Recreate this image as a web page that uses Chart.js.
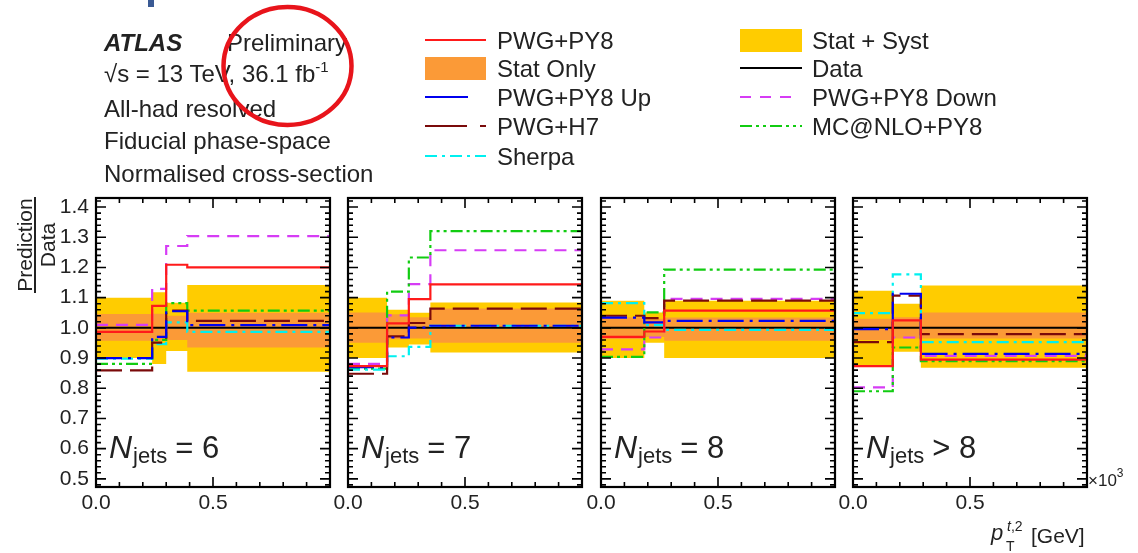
<!DOCTYPE html>
<html>
<head>
<meta charset="utf-8">
<script src="https://cdn.jsdelivr.net/npm/chart.js@4.4.1/dist/chart.umd.min.js"></script>
<style>
  body { margin: 0; width: 1138px; height: 553px; background: #fff; position: relative; overflow: hidden; }
  canvas.panel { position: absolute; }
  svg.overlay { position: absolute; left: 0; top: 0; pointer-events: none; }
  svg text { font-family: 'Liberation Sans', Arial, sans-serif; fill: #222; }
</style>
</head>
<body>

<script>
// pT(t,2) ratio to data, four jet-multiplicity slices, x in units of 10^3 GeV
const panelLabels = ['= 6', '= 7', '= 8', '> 8'];
const binEdges = [
  [0, 0.24, 0.30, 0.39, 1.0],
  [0, 0.167, 0.26, 0.352, 1.0],
  [0, 0.185, 0.27, 1.0],
  [0, 0.17, 0.29, 1.0]
];

// Stat + Syst band
const totalUp   = [[1.10, 1.118, 1.083, 1.142], [1.10, 1.06, 1.05, 1.084], [1.09, 1.051, 1.09], [1.123, 1.08, 1.14]];
const totalDown = [[0.90, 0.88, 0.923, 0.855], [0.90, 0.935, 0.945, 0.918], [0.90, 0.951, 0.90], [0.873, 0.921, 0.868]];
// Stat only band
const statUp    = [[1.046, 1.047, 1.04, 1.05], [1.051, 1.045, 1.035, 1.064], [1.035, 1.03, 1.034], [1.03, 1.035, 1.051]];
const statDown  = [[0.957, 0.957, 0.96, 0.935], [0.951, 0.962, 0.965, 0.951], [0.963, 0.97, 0.957], [0.96, 0.965, 0.965]];

const dataRatio  = [[1, 1, 1, 1], [1, 1, 1, 1], [1, 1, 1], [1, 1, 1]];
const pwgPy8     = [[0.987, 1.073, 1.209, 1.20], [0.873, 1.015, 1.095, 1.144], [0.97, 0.988, 1.057], [0.873, 1.025, 0.895]];
const pwgPy8Up   = [[0.90, 0.97, 1.055, 1.009], [0.87, 0.968, 1.001, 1.007], [1.034, 1.018, 1.023], [0.996, 1.113, 0.914]];
const pwgPy8Down = [[1.01, 1.129, 1.271, 1.304], [0.881, 1.041, 1.145, 1.257], [0.929, 0.968, 1.096], [0.803, 0.968, 0.907]];
const pwgH7      = [[0.859, 0.951, 1.057, 1.023], [0.848, 0.972, 1.016, 1.064], [1.04, 1.032, 1.09], [0.953, 1.107, 0.979]];
const mcnloPy8   = [[0.881, 0.96, 1.082, 1.057], [0.865, 1.12, 1.233, 1.32], [0.904, 1.051, 1.193], [0.79, 0.935, 0.89]];
const sherpa     = [[0.898, 0.946, 1.018, 0.987], [0.862, 0.906, 0.937, 1.007], [1.082, 1.009, 0.993], [1.049, 1.177, 0.953]];

const yTickValues = [0.5, 0.6, 0.7, 0.8, 0.9, 1.0, 1.1, 1.2, 1.3, 1.4];
const xTickValues = [0, 0.5];

const panelLeft = [96, 348, 601, 853];
const panelW = 234, panelH = 289, panelTop = 198;
const axisW = 70, axisH = 40, padTop = 10, padRight = 14;

const models = [
  { values: pwgPy8,     color: '#ff1a1a', dash: [],               order: 1 },
  { values: pwgPy8Up,   color: '#0000ee', dash: [26, 6, 3, 6],    order: 2 },
  { values: pwgH7,      color: '#7a0a0a', dash: [26, 8],          order: 3 },
  { values: sherpa,     color: '#00f0f0', dash: [12, 5, 3, 5],    order: 4 },
  { values: mcnloPy8,   color: '#11cc11', dash: [12, 4, 3, 4, 3, 4], order: 5 },
  { values: pwgPy8Down, color: '#d63cf5', dash: [12, 8],          order: 6 }
];

// histogram style: one point per bin low edge, plus the last edge
function steps(edges, vals) {
  const pts = vals.map((v, i) => ({ x: edges[i], y: v }));
  pts.push({ x: edges[edges.length - 1], y: vals[vals.length - 1] });
  return pts;
}

function bandEdge(edges, vals, fillColor, order) {
  return {
    data: steps(edges, vals),
    stepped: true,
    borderWidth: 0,
    borderColor: 'transparent',
    pointRadius: 0,
    fill: fillColor ? '-1' : false,
    backgroundColor: fillColor || 'transparent',
    order: order
  };
}

function histLine(edges, vals, color, dash, width, order) {
  return {
    data: steps(edges, vals),
    stepped: true,
    borderColor: color,
    borderDash: dash,
    borderWidth: width,
    pointRadius: 0,
    fill: false,
    order: order
  };
}

// inward ticks on all four sides, the frame, and the N_jets label
const framePlugin = {
  id: 'frame',
  afterDatasetsDraw(chart) {
    const { ctx, chartArea: a, scales: { x, y } } = chart;
    ctx.save();
    ctx.strokeStyle = '#000';
    ctx.lineWidth = 1.6;
    ctx.beginPath();
    for (let j = 24; j <= 71; j++) {
      const py = y.getPixelForValue(j * 0.02);
      const len = j % 5 === 0 ? 10 : 5;
      ctx.moveTo(a.left, py); ctx.lineTo(a.left + len, py);
      ctx.moveTo(a.right, py); ctx.lineTo(a.right - len, py);
    }
    for (let j = 0; j <= 10; j++) {
      const px = x.getPixelForValue(j * 0.1);
      const len = j % 5 === 0 ? 10 : 5;
      ctx.moveTo(px, a.bottom); ctx.lineTo(px, a.bottom - len);
      ctx.moveTo(px, a.top); ctx.lineTo(px, a.top + len);
    }
    ctx.stroke();
    ctx.lineWidth = 2.2;
    ctx.strokeRect(a.left, a.top, a.right - a.left, a.bottom - a.top);

    const p = chart.options.plugins.frame.panel;
    let tx = a.left + 13;
    const base = a.bottom - 29;
    ctx.fillStyle = '#222';
    ctx.textBaseline = 'alphabetic';
    ctx.font = "italic 32px 'Liberation Sans', Arial, sans-serif";
    ctx.fillText('N', tx, base);
    tx += ctx.measureText('N').width + 1;
    ctx.font = "22px 'Liberation Sans', Arial, sans-serif";
    ctx.fillText('jets', tx, base + 5);
    tx += ctx.measureText('jets').width + 8;
    ctx.font = "31px 'Liberation Sans', Arial, sans-serif";
    ctx.fillText(panelLabels[p], tx, base);
    ctx.restore();
  }
};

Chart.defaults.font.family = "'Liberation Sans', Arial, sans-serif";
Chart.defaults.color = '#222';

for (let p = 0; p < 4; p++) {
  const canvas = document.createElement('canvas');
  canvas.className = 'panel';
  canvas.width = axisW + panelW + padRight;
  canvas.height = padTop + panelH + axisH;
  canvas.style.left = (panelLeft[p] - axisW) + 'px';
  canvas.style.top = (panelTop - padTop) + 'px';
  document.body.appendChild(canvas);

  const e = binEdges[p];
  const datasets = [
    bandEdge(e, totalUp[p], null, 30),
    bandEdge(e, totalDown[p], '#ffcc00', 29),
    bandEdge(e, statUp[p], null, 28),
    bandEdge(e, statDown[p], '#fb9a37', 27),
    histLine(e, dataRatio[p], '#000', [], 2, 7)
  ];
  models.forEach(m => datasets.push(histLine(e, m.values[p], m.color, m.dash, 2.2, m.order)));

  new Chart(canvas.getContext('2d'), {
    type: 'line',
    data: { datasets: datasets },
    options: {
      responsive: false,
      animation: false,
      devicePixelRatio: 1,
      layout: { autoPadding: false, padding: { top: padTop, right: padRight, left: 0, bottom: 0 } },
      plugins: { legend: { display: false }, tooltip: { enabled: false }, frame: { panel: p } },
      scales: {
        x: {
          type: 'linear', min: 0, max: 1.0,
          grid: { display: false, drawTicks: false },
          border: { display: false },
          afterBuildTicks: s => { s.ticks = xTickValues.map(v => ({ value: v })); },
          // fixed box sizes so every panel gets the same plot area
          afterFit: s => { s.height = axisH; s.paddingLeft = 0; s.paddingRight = 0; },
          ticks: { padding: 4, maxRotation: 0, font: { size: 21 }, callback: v => v.toFixed(1) }
        },
        y: {
          type: 'linear', min: 0.473, max: 1.43,
          grid: { display: false, drawTicks: false },
          border: { display: false },
          afterBuildTicks: s => { s.ticks = yTickValues.map(v => ({ value: v })); },
          afterFit: s => { s.width = axisW; s.paddingTop = 0; s.paddingBottom = 0; },
          ticks: { display: p === 0, padding: 7, font: { size: 21 }, callback: v => v.toFixed(1) }
        }
      }
    },
    plugins: [framePlugin]
  });
}
</script>

<svg class="overlay" width="1138" height="553" xmlns="http://www.w3.org/2000/svg">
  <rect x="148" y="0" width="6" height="7" fill="#3a5a94"/>

  <!-- header text -->
  <text x="104" y="51" font-size="24" font-weight="bold" font-style="italic">ATLAS</text>
  <text x="227" y="51" font-size="24">Preliminary</text>
  <text x="104" y="82" font-size="24">√s = 13 TeV, 36.1 fb<tspan font-size="15" dy="-10">-1</tspan></text>
  <text x="104" y="117" font-size="24">All-had resolved</text>
  <text x="104" y="149" font-size="24">Fiducial phase-space</text>
  <text x="104" y="182" font-size="24">Normalised cross-section</text>

  <!-- legend, first column -->
  <line x1="425" y1="40" x2="486" y2="40" stroke="#ff1a1a" stroke-width="2.2"/>
  <text x="497" y="49" font-size="24">PWG+PY8</text>
  <rect x="425" y="57" width="61" height="23" fill="#fb9a37"/>
  <text x="497" y="77" font-size="24">Stat Only</text>
  <line x1="425" y1="97" x2="468" y2="97" stroke="#0000ee" stroke-width="2.2"/>
  <text x="497" y="106" font-size="24">PWG+PY8 Up</text>
  <line x1="425" y1="126" x2="486" y2="126" stroke="#7a0a0a" stroke-width="2.2" stroke-dasharray="42 13 6 20"/>
  <text x="497" y="135" font-size="24">PWG+H7</text>
  <line x1="425" y1="156" x2="486" y2="156" stroke="#00f0f0" stroke-width="2.2" stroke-dasharray="12 5 3 5"/>
  <text x="497" y="165" font-size="24">Sherpa</text>

  <!-- legend, second column -->
  <rect x="740" y="29" width="62" height="23" fill="#ffcc00"/>
  <text x="812" y="49" font-size="24">Stat + Syst</text>
  <line x1="740" y1="68" x2="802" y2="68" stroke="#000" stroke-width="2"/>
  <text x="812" y="77" font-size="24">Data</text>
  <line x1="740" y1="97" x2="798" y2="97" stroke="#d63cf5" stroke-width="2.2" stroke-dasharray="11 9"/>
  <text x="812" y="106" font-size="24">PWG+PY8 Down</text>
  <line x1="740" y1="126" x2="802" y2="126" stroke="#11cc11" stroke-width="2.2" stroke-dasharray="12 4 3 4 3 4"/>
  <text x="812" y="135" font-size="24">MC@NLO+PY8</text>

  <!-- y axis title -->
  <text x="32" y="245" font-size="21" text-anchor="middle" transform="rotate(-90 32 245)">Prediction</text>
  <line x1="35" y1="197" x2="35" y2="293" stroke="#222" stroke-width="2"/>
  <text x="55" y="245" font-size="21" text-anchor="middle" transform="rotate(-90 55 245)">Data</text>

  <!-- x axis title and exponent -->
  <text x="1088" y="486" font-size="17">×10<tspan font-size="12" dy="-9">3</tspan></text>
  <text x="991" y="540" font-size="22" font-style="italic">p</text>
  <text x="1006" y="551" font-size="14">T</text>
  <text x="1007" y="531" font-size="14" font-style="italic">t<tspan font-style="normal">,2</tspan></text>
  <text x="1031" y="543" font-size="21">[GeV]</text>

  <ellipse cx="287.5" cy="66" rx="64" ry="59" fill="none" stroke="#e8141b" stroke-width="4.5"/>
</svg>
</body>
</html>
